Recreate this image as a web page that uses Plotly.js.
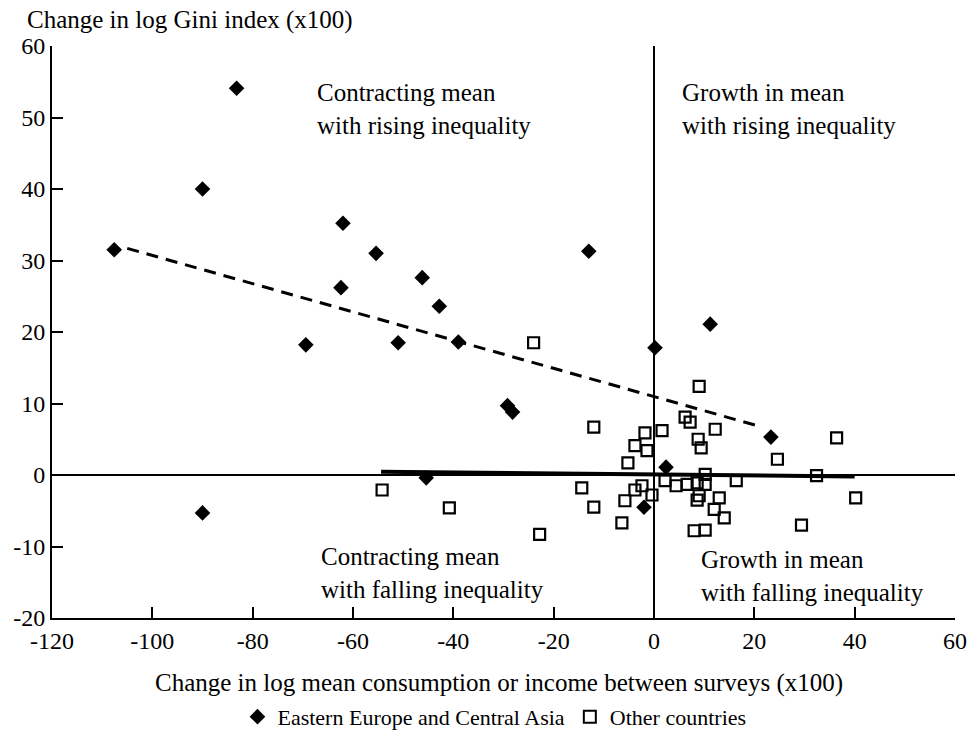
<!DOCTYPE html>
<html>
<head>
<meta charset="utf-8">
<script src="https://cdn.plot.ly/plotly-3.0.1.min.js"></script>
<style>html,body{margin:0;padding:0;background:#fff;}#chart{width:974px;height:739px;}</style>
</head>
<body>
<div id="chart"></div>
<script>
// Eastern Europe and Central Asia
var eeX = [-107.6, -90, -83.2, -90, -69.4, -62, -62.4, -55.4, -51, -46.2, -42.8, -39, -45.4, -29.2, -28.2, -13, 0.2, -2, 2.4, 11.2, 23.3];
var eeY = [31.5, 40, 54.1, -5.3, 18.2, 35.2, 26.2, 31.0, 18.5, 27.6, 23.6, 18.6, -0.4, 9.7, 8.8, 31.3, 17.8, -4.5, 1.1, 21.1, 5.3];
// Other countries
var otX = [-24, -12, -1.8, -3.8, -1.4, -5.2, 1.6, 9, 6.2, 7.2, 12.2, 8.8, 9.4, 36.4, 24.6,
           -54.2, -40.8, -14.4, -12, -22.8, -5.8, -6.4, -3.8, -2.4, -0.4, 2.2, 4.4, 6.6, 8.6, 10.2,
           10.2, 9, 8.6, 13, 12, 14, 8, 10.2, 16.4, 32.4, 40.2, 29.4];
var otY = [18.5, 6.7, 5.9, 4.1, 3.4, 1.7, 6.2, 12.4, 8.1, 7.4, 6.4, 5.0, 3.8, 5.2, 2.2,
           -2.1, -4.6, -1.8, -4.5, -8.3, -3.6, -6.7, -2.1, -1.5, -2.8, -0.8, -1.5, -1.3, -1.1, 0.1,
           -1.3, -2.9, -3.5, -3.2, -4.8, -6, -7.8, -7.7, -0.8, -0.1, -3.2, -7];
// Fitted lines (endpoints)
var eeFitX = [-105, 21.6];
var eeFitY = [31.7, 6.7];
var otFitX = [-54.4, 40];
var otFitY = [0.45, -0.2];
// Tick values
var xTicks = [-120, -100, -80, -60, -40, -20, 0, 20, 40, 60];
var yTicks = [-20, -10, 0, 10, 20, 30, 40, 50, 60];

var FONT = "Liberation Serif, Times New Roman, serif";

var traces = [
  {x: eeFitX, y: eeFitY, mode: 'lines', line: {color: '#000', width: 3, dash: '12px,8px'}, showlegend: false, hoverinfo: 'skip'},
  {x: otFitX, y: otFitY, mode: 'lines', line: {color: '#000', width: 4}, showlegend: false, hoverinfo: 'skip'},
  {x: eeX, y: eeY, mode: 'markers', name: 'Eastern Europe and Central Asia',
   marker: {symbol: 'diamond', size: 12, color: '#000', line: {width: 0}}},
  {x: otX, y: otY, mode: 'markers', name: 'Other countries',
   marker: {symbol: 'square-open', size: 11, color: '#000', line: {width: 2.2, color: '#000'}}}
];

var layout = {
  width: 974, height: 739,
  margin: {l: 52, r: 19, t: 46, b: 121},
  paper_bgcolor: '#fff', plot_bgcolor: '#fff',
  font: {family: FONT, size: 24, color: '#000'},
  xaxis: {
    range: [-120, 60], tickvals: xTicks, ticktext: xTicks.map(String),
    ticks: 'inside', ticklen: 11, tickwidth: 2, tickcolor: '#000',
    showline: true, linecolor: '#000', linewidth: 2, showgrid: false,
    zeroline: true, zerolinecolor: '#000', zerolinewidth: 1.5,
    tickfont: {family: FONT, size: 24}, fixedrange: true
  },
  yaxis: {
    range: [-20, 60], tickvals: yTicks, ticktext: yTicks.map(String),
    ticks: 'inside', ticklen: 11, tickwidth: 2, tickcolor: '#000',
    showline: true, linecolor: '#000', linewidth: 2, showgrid: false,
    zeroline: true, zerolinecolor: '#000', zerolinewidth: 1.5,
    tickfont: {family: FONT, size: 24}, fixedrange: true
  },
  showlegend: true,
  legend: {orientation: 'h', xref: 'paper', x: 0.49, xanchor: 'center', yref: 'container', y: 0.03, yanchor: 'middle',
           font: {family: FONT, size: 22}, tracegroupgap: 0, bgcolor: 'rgba(0,0,0,0)', itemsizing: 'constant'},
  annotations: [
    {xref: 'paper', yref: 'paper', x: -0.03, y: 1.046, xanchor: 'left', yanchor: 'middle', showarrow: false,
     text: 'Change in log Gini index (x100)', font: {family: FONT, size: 25}},
    {xref: 'paper', yref: 'paper', x: 0.495, y: -0.1136, xanchor: 'center', yanchor: 'middle', showarrow: false,
     text: 'Change in log mean consumption or income between surveys (x100)', font: {family: FONT, size: 25}},
    {x: -67.5, y: 51.2, xanchor: 'left', yanchor: 'middle', align: 'left', showarrow: false,
     text: 'Contracting mean<br>with rising inequality', font: {family: FONT, size: 25}},
    {x: 5.2, y: 51.2, xanchor: 'left', yanchor: 'middle', align: 'left', showarrow: false,
     text: 'Growth in mean<br>with rising inequality', font: {family: FONT, size: 25}},
    {x: -66.7, y: -13.7, xanchor: 'left', yanchor: 'middle', align: 'left', showarrow: false,
     text: 'Contracting mean<br>with falling inequality', font: {family: FONT, size: 25}},
    {x: 8.9, y: -14.1, xanchor: 'left', yanchor: 'middle', align: 'left', showarrow: false,
     text: 'Growth in mean<br>with falling inequality', font: {family: FONT, size: 25}}
  ]
};

Plotly.newPlot('chart', traces, layout, {displayModeBar: false, staticPlot: true});
</script>
</body>
</html>
